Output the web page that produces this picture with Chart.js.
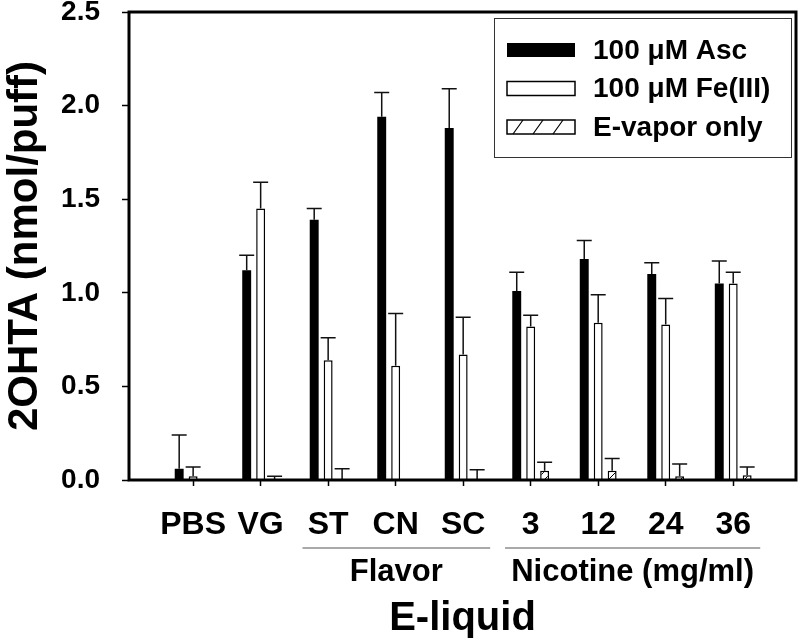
<!DOCTYPE html>
<html>
<head>
    <meta charset="utf-8" />
    <title>2OHTA per puff</title>
    <script src="https://cdn.jsdelivr.net/npm/chart.js"></script>
    <style>
        html, body { margin: 0; padding: 0; background: #fff; }
        #wrap { width: 800px; height: 643px; }
    </style>
</head>
<body>
    <div id="wrap"><canvas id="chart"></canvas></div>
    <script>
        // e-liquid categories
        const categories = ['PBS', 'VG', 'ST', 'CN', 'SC', '3', '12', '24', '36'];

        // means and upper error (nmol/puff)
        const ascValues = [0.06, 1.12, 1.39, 1.94, 1.88, 1.01, 1.18, 1.10, 1.05];
        const ascErrors = [0.18, 0.08, 0.06, 0.13, 0.21, 0.10, 0.10, 0.06, 0.12];
        const feValues = [0.02, 1.45, 0.64, 0.61, 0.67, 0.82, 0.84, 0.83, 1.05];
        const feErrors = [0.05, 0.14, 0.12, 0.28, 0.20, 0.06, 0.15, 0.14, 0.06];
        const vaporValues = [0, 0.005, 0.005, 0, 0.005, 0.05, 0.05, 0.02, 0.025];
        const vaporErrors = [0, 0.015, 0.055, 0, 0.05, 0.045, 0.065, 0.065, 0.045];

        const yTicks = [0, 0.5, 1.0, 1.5, 2.0, 2.5];

        // groups drawn under the tick labels (index ranges into categories)
        const groupNames = ['Flavor', 'Nicotine (mg/ml)'];
        const groupFirst = [2, 5];
        const groupLast = [4, 8];

        const FONT = "'Liberation Sans', Arial, Helvetica, sans-serif";

        function hatchPattern() {
            const c = document.createElement('canvas');
            c.width = 8; c.height = 8;
            const g = c.getContext('2d');
            g.fillStyle = '#fff';
            g.fillRect(0, 0, 8, 8);
            g.strokeStyle = '#000';
            g.lineWidth = 1;
            g.beginPath();
            g.moveTo(0, 8); g.lineTo(8, 0);
            g.moveTo(-2, 2); g.lineTo(2, -2);
            g.moveTo(6, 10); g.lineTo(10, 6);
            g.stroke();
            return g.createPattern(c, 'repeat');
        }

        const toXY = (arr) => arr.map((v, i) => ({ x: i + 1, y: v }));

        // upper-only error bars with a cap
        const errorBars = {
            id: 'errorBars',
            afterDatasetsDraw(chart) {
                const ctx = chart.ctx;
                const y = chart.scales.y;
                ctx.save();
                ctx.strokeStyle = '#111';
                ctx.lineWidth = 1.5;
                chart.data.datasets.forEach((ds, di) => {
                    const meta = chart.getDatasetMeta(di);
                    meta.data.forEach((bar, j) => {
                        const err = ds.errors[j];
                        if (!err) return;
                        const v = ds.data[j].y;
                        const y0 = y.getPixelForValue(v);
                        const y1 = y.getPixelForValue(v + err);
                        ctx.beginPath();
                        ctx.moveTo(bar.x, y0);
                        ctx.lineTo(bar.x, y1);
                        ctx.moveTo(bar.x - 7.5, y1);
                        ctx.lineTo(bar.x + 7.5, y1);
                        ctx.stroke();
                    });
                });
                ctx.restore();
            }
        };

        // box round the plot area
        const frame = {
            id: 'frame',
            afterDatasetsDraw(chart) {
                const a = chart.chartArea;
                const ctx = chart.ctx;
                ctx.save();
                ctx.strokeStyle = '#000';
                ctx.lineWidth = 3;
                ctx.strokeRect(a.left, a.top, a.right - a.left, a.bottom - a.top);
                ctx.restore();
            }
        };

        // Flavor / Nicotine underlines and names
        const groupLabels = {
            id: 'groupLabels',
            afterDraw(chart) {
                const x = chart.scales.x;
                const a = chart.chartArea;
                const ctx = chart.ctx;
                ctx.save();
                ctx.strokeStyle = '#555';
                ctx.lineWidth = 1.2;
                ctx.fillStyle = '#000';
                ctx.font = 'bold 31px ' + FONT;
                ctx.textAlign = 'center';
                ctx.textBaseline = 'middle';
                groupNames.forEach((name, g) => {
                    const l = x.getPixelForValue(groupFirst[g] + 1 - 0.38);
                    const r = x.getPixelForValue(groupLast[g] + 1 + 0.4);
                    ctx.beginPath();
                    ctx.moveTo(l, a.bottom + 68);
                    ctx.lineTo(r, a.bottom + 68);
                    ctx.stroke();
                    ctx.fillText(name, (l + r) / 2, a.bottom + 92);
                });
                ctx.restore();
            }
        };

        // boxed legend inside the plot, top right
        const boxLegend = {
            id: 'boxLegend',
            afterDraw(chart) {
                const a = chart.chartArea;
                const ctx = chart.ctx;
                const bx = a.right - 302, by = a.top + 6, bw = 297, bh = 139;
                ctx.save();
                ctx.strokeStyle = '#333';
                ctx.lineWidth = 1;
                ctx.strokeRect(bx + 0.5, by + 0.5, bw, bh);
                ctx.font = 'bold 28px ' + FONT;
                ctx.textBaseline = 'middle';
                ctx.textAlign = 'left';
                chart.data.datasets.forEach((ds, i) => {
                    const cy = by + 32 + i * 38.5;
                    const sx = bx + 13, sw = 68, sh = 14;
                    ctx.fillStyle = i === 0 ? '#000' : '#fff';
                    ctx.fillRect(sx, cy - sh / 2, sw, sh);
                    if (i > 0) {
                        ctx.strokeStyle = '#000';
                        ctx.lineWidth = 1.5;
                        ctx.strokeRect(sx, cy - sh / 2, sw, sh);
                    }
                    if (i === 2) {
                        ctx.lineWidth = 1.2;
                        ctx.beginPath();
                        for (let k = 0; k < 3; k++) {
                            const x0 = sx + 6 + k * 20;
                            ctx.moveTo(x0, cy + sh / 2);
                            ctx.lineTo(x0 + 10, cy - sh / 2);
                        }
                        ctx.stroke();
                    }
                    ctx.fillStyle = '#000';
                    ctx.fillText(ds.label, bx + 99, cy + 1);
                });
                ctx.restore();
            }
        };

        new Chart(document.getElementById('chart'), {
            type: 'bar',
            data: {
                datasets: [
                    { label: '100 \u03bcM Asc', data: toXY(ascValues), errors: ascErrors,
                      backgroundColor: '#000', borderWidth: 0 },
                    { label: '100 \u03bcM Fe(III)', data: toXY(feValues), errors: feErrors,
                      backgroundColor: '#fff', borderColor: '#000', borderWidth: 1.5 },
                    { label: 'E-vapor only', data: toXY(vaporValues), errors: vaporErrors,
                      backgroundColor: hatchPattern(), borderColor: '#000', borderWidth: 1.5 }
                ]
            },
            options: {
                responsive: true,
                maintainAspectRatio: false,
                animation: false,
                categoryPercentage: 0.62,
                barPercentage: 0.64,
                layout: { padding: { top: 12, right: 4, left: 0, bottom: 0 } },
                plugins: {
                    legend: { display: false },
                    tooltip: { enabled: false }
                },
                scales: {
                    x: {
                        type: 'linear',
                        offset: false,
                        min: 0.05,
                        max: 9.93,
                        afterBuildTicks: (s) => { s.ticks = categories.map((c, i) => ({ value: i + 1 })); },
                        afterFit: (s) => {
                            s.height = 163;
                            s.paddingLeft = 0; s.paddingRight = 0;
                        },
                        ticks: {
                            autoSkip: false,
                            maxRotation: 0,
                            padding: 20,
                            color: '#000',
                            font: { family: FONT, size: 32, weight: 'bold' },
                            callback: (v) => categories[v - 1]
                        },
                        grid: { offset: false, drawOnChartArea: false, drawTicks: true, tickLength: 6,
                                tickColor: '#000', tickWidth: 1.5 },
                        border: { display: false },
                        title: {
                            display: true,
                            text: 'E-liquid',
                            color: '#000',
                            font: { family: FONT, size: 40, weight: 'bold' },
                            padding: { top: 0, bottom: 0 }
                        }
                    },
                    y: {
                        min: 0,
                        max: 2.5,
                        afterBuildTicks: (s) => { s.ticks = yTicks.map(v => ({ value: v })); },
                        afterFit: (s) => {
                            s.width = 129;
                            s.paddingTop = 0; s.paddingBottom = 0;
                        },
                        ticks: {
                            padding: 22,
                            color: '#000',
                            font: { family: FONT, size: 28, weight: 'bold' },
                            callback: (v) => Number(v).toFixed(1)
                        },
                        grid: { drawOnChartArea: false, drawTicks: true, tickLength: 7,
                                tickColor: '#000', tickWidth: 1.5 },
                        border: { display: false },
                        title: {
                            display: true,
                            text: '2OHTA (nmol/puff)',
                            color: '#000',
                            font: { family: FONT, size: 42, weight: 'bold' },
                            padding: { top: 0, bottom: 0 }
                        }
                    }
                }
            },
            plugins: [errorBars, frame, groupLabels, boxLegend]
        });
    </script>
</body>
</html>
